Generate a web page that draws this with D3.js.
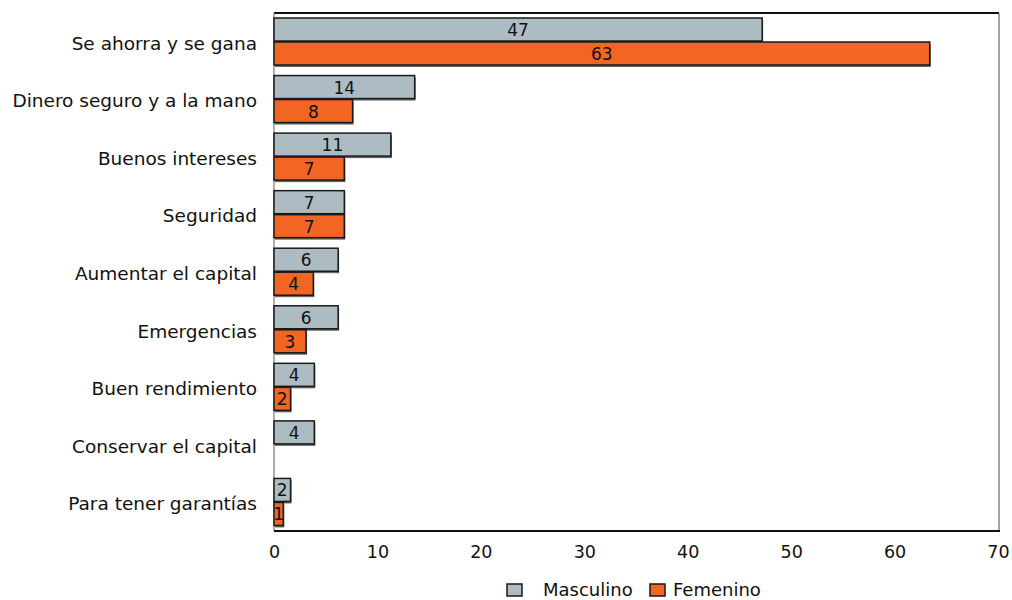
<!DOCTYPE html>
<html>
<head>
<meta charset="utf-8">
<script src="https://cdn.jsdelivr.net/npm/d3@7"></script>
<style>
	body { margin: 0; background: #fff; }
	svg text { font-family: "DejaVu Sans", Verdana, sans-serif; fill: #111; }
</style>
</head>
<body>
<svg width="1012" height="600"></svg>
<script>
'use strict';

// Chart data
const categories = ['Se ahorra y se gana', 'Dinero seguro y a la mano', 'Buenos intereses', 'Seguridad',
	'Aumentar el capital', 'Emergencias', 'Buen rendimiento', 'Conservar el capital', 'Para tener garantías']
const masculino = [47.2, 13.6, 11.3, 6.8, 6.2, 6.2, 3.9, 3.9, 1.6]
const femenino = [63.4, 7.6, 6.8, 6.8, 3.8, 3.1, 1.6, 0, 0.9]
const seriesNames = ['Masculino', 'Femenino']
const xTicks = [0, 10, 20, 30, 40, 50, 60, 70]

const COLORS = ['#adbcc3', '#f26522']
const M = { left: 274, right: 999, top: 13, bottom: 531 }

const svg = d3.select('svg')

const x = d3.scaleLinear().domain([0, 70]).range([M.left, 998])
const y = d3.scaleBand().domain(categories).range([M.top, M.bottom])

// Frame
svg.append('line').attr('x1', M.left).attr('x2', M.right).attr('y1', M.top).attr('y2', M.top)
	.attr('stroke', '#111').attr('stroke-width', 2)
svg.append('line').attr('x1', M.right).attr('x2', M.right).attr('y1', M.top).attr('y2', M.bottom)
	.attr('stroke', '#666').attr('stroke-width', 1.2)
svg.append('line').attr('x1', M.left).attr('x2', M.left).attr('y1', M.top).attr('y2', M.bottom)
	.attr('stroke', '#777').attr('stroke-width', 1.2)
svg.append('line').attr('x1', M.left).attr('x2', M.right + 1).attr('y1', M.bottom).attr('y2', M.bottom)
	.attr('stroke', '#111').attr('stroke-width', 2.2)

// Bars
const rows = categories.map((c, i) => ({ cat: c, vals: [masculino[i], femenino[i]] }))
const barH = 23
const offsets = [5, 29]

const g = svg.selectAll('g.cat').data(rows).enter().append('g').classed('cat', true)
	.attr('transform', (d) => `translate(0,${y(d.cat)})`)

seriesNames.forEach((s, k) => {
	const bars = g.filter((d) => d.vals[k] > 0)
	// shadow
	bars.append('rect')
		.attr('x', M.left + 1).attr('y', offsets[k] + 2)
		.attr('width', (d) => x(d.vals[k]) - M.left)
		.attr('height', barH)
		.attr('fill', '#666')
	bars.append('rect')
		.attr('x', M.left).attr('y', offsets[k])
		.attr('width', (d) => x(d.vals[k]) - M.left)
		.attr('height', barH)
		.attr('fill', COLORS[k]).attr('stroke', '#1a1a1a').attr('stroke-width', 1.5)
	bars.append('text')
		.attr('x', (d) => (M.left + x(d.vals[k])) / 2)
		.attr('y', offsets[k] + barH / 2 + 1.5)
		.attr('text-anchor', 'middle').attr('dominant-baseline', 'middle')
		.style('font-size', '17px')
		.text((d) => d3.format('.0f')(d.vals[k]))
})

// Category labels
g.append('text')
	.attr('x', 257).attr('y', y.bandwidth() / 2 + 3)
	.attr('text-anchor', 'end').attr('dominant-baseline', 'middle')
	.style('font-size', '18.5px')
	.text((d) => d.cat)

// X axis labels
const axis = d3.axisBottom(x).tickValues(xTicks).tickSize(0).tickPadding(13)
const ax = svg.append('g').attr('transform', `translate(0,${M.bottom + 2})`).call(axis)
ax.select('.domain').remove()
ax.selectAll('text').style('font-size', '17.5px').style('font-family', '"DejaVu Sans", Verdana, sans-serif').attr('fill', '#111')

// Legend
const legend = svg.append('g').attr('transform', 'translate(507,584)')
const lx = [0, 143]
seriesNames.forEach((s, k) => {
	legend.append('rect').attr('x', lx[k]).attr('y', 0).attr('width', 15).attr('height', 12)
		.attr('fill', COLORS[k]).attr('stroke', '#1a1a1a').attr('stroke-width', 1.5)
	legend.append('text').attr('x', lx[k] + (k === 0 ? 36 : 23)).attr('y', 6.5)
		.attr('dominant-baseline', 'middle').style('font-size', '18px').text(s)
})
</script>
</body>
</html>
